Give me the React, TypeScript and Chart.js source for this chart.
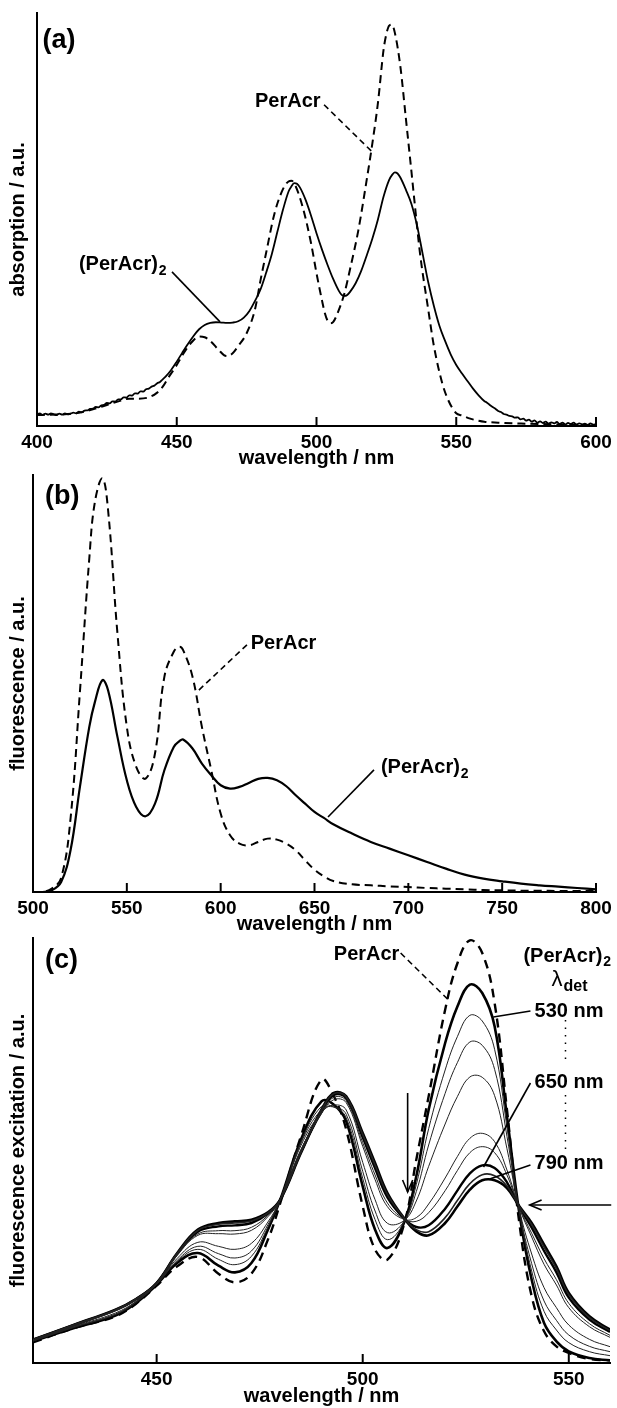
import React, { useEffect, useRef } from "react";
import { Chart, registerables } from "chart.js";
Chart.register(...registerables);

const FONT = '"Liberation Sans", Arial, Helvetica, sans-serif';

// ---------- Panel (a): absorption ----------
const absTicks = [400, 450, 500, 550, 600];
const absDimer: [number, number][] = [
  [400,35],[401,38],[402,33],[403,37],[404,34],[405,38],[406,35],[407,33],[408,37],[409,34],[410,38],[411,35],[412,37],[413,40],[414,38],[415,43],[416,41],[417,46],[418,47],[419,51],[420,52],[421,57],[422,56],[423,62],[424,63],[425,69],[426,68],[427,74],[428,73],[429,80],[430,80],[431,86],[432,85],[433,92],[434,91],[435,98],[436,97],[437,104],[438,103],[439,110],[440,112],[441,118],[442,121],[443,128],[444,132],[445,140],
  [446,148],[448,168],[450,193],[452,220],[454,246],[456,270],[458,290],[460,303],[462,309],[464,311],[466,310],[468,309],[470,310],[472,314],[474,325],[476,345],[478,375],[480,410],[482,460],[484,515],[486,582],[488,648],[490,703],[491,718],[492,728],[493,726],[494,716],[496,680],[498,632],[500,578],[502,528],[504,482],[506,440],[508,405],[509,393],[510,390],[511,393],[512,402],[514,428],[516,465],[518,512],[520,562],[522,620],[524,688],[526,738],[527,752],[528,760],[529,757],[530,745],[532,708],[534,665],[536,600],[538,515],[540,430],[542,360],[544,300],[546,255],[548,215],[550,183],[552,158],[554,135],[556,112],[558,92],
  [560,75],[561,70],[562,63],[563,57],[564,52],[565,45],[566,42],[567,36],[568,34],[569,30],[570,29],[571,25],[572,26],[573,20],[574,22],[575,16],[576,19],[577,13],[578,17],[579,10],[580,14],[581,9],[582,13],[583,7],[584,11],[585,8],[586,12],[587,6],[588,10],[589,5],[590,9],[591,6],[592,10],[593,4],[594,8],[595,5],[596,7],[597,3],[598,8],[599,4],[600,6]
];
const absMono: [number, number][] = [
  [400,33],[405,34],[410,35],[415,40],[420,50],[425,63],[430,76],[433,82],[436,82],[440,86],[443,100],[445,118],[447,145],[450,183],[452,212],[455,248],[458,268],[460,266],[462,255],[465,228],[467,212],[468,210],[470,218],[472,240],[475,278],[478,350],[480,438],[482,520],[485,638],[488,710],[490,733],[491,735],[492,728],[495,658],[498,550],[500,458],[502,375],[503,338],[504,315],[505,308],[506,312],[508,348],[510,398],[512,470],[515,588],[518,740],[520,848],[522,970],[524,1128],[525,1175],[526,1200],[527,1203],[528,1180],[530,1078],[532,920],[534,760],[535,678],[537,520],[540,348],[542,240],[545,128],[547,80],[550,38],[552,32],[555,22],[558,16],[560,13],[565,10],[570,8],[575,7],[580,6],[590,4],[600,3]
];

// ---------- Panel (b): fluorescence ----------
const fluTicks = [500, 550, 600, 650, 700, 750, 800];
const fluWl = [500,505,510,515,520,525,530,533,537,540,545,550,555,560,565,570,575,578,580,585,590,595,600,605,610,615,620,625,630,635,640,645,650,655,660,670,680,690,700,710,720,730,740,750,760,770,780,790,800];
const fluDimer = [0,0,5,30,125,315,495,570,635,605,465,335,255,227,265,365,435,452,457,430,385,350,320,310,315,327,339,342,335,317,290,265,240,222,203,175,150,130,110,90,70,52,40,32,25,20,16,12,8];
const fluMono = [0,0,10,42,220,600,1000,1170,1240,1145,775,495,375,340,415,645,720,735,725,645,495,365,235,170,145,140,150,160,157,145,125,95,67,47,33,23,20,17,15,12,10,8,6,5,4,4,3,3,3];

// ---------- Panel (c): fluorescence excitation ----------
const excTicks = [450, 500, 550];
const excWl = [420,430,440,445,450,455,460,465,469,473,477,480,485,490,493,496,500,503,506,510,513,516,520,523,526,529,532,535,538,541,544,547,550,555,560];
const excPerAcr = [62,105,140,178,232,290,318,268,242,268,370,480,680,850,800,700,470,340,310,415,610,800,1060,1200,1268,1230,1080,760,420,200,95,50,30,12,8];
const excDet530 = [65,105,142,180,235,300,330,292,272,300,400,490,670,785,775,725,530,400,345,420,560,760,960,1070,1135,1110,1010,740,450,250,120,65,35,15,8];
const excMid1 = [66,107,145,182,236,305,341,311,295,320,408,490,664,770,768,736,554,430,370,422,535,703,879,980,1043,1026,941,708,453,276,155,99,61,34,22];
const excMid2 = [66,108,147,183,236,308,350,328,315,336,415,490,659,760,768,746,575,456,391,424,514,654,809,902,963,953,881,680,456,298,186,128,84,50,34];
const excMid3 = [67,110,150,185,237,314,362,350,341,359,423,490,652,752,774,759,602,490,419,427,486,590,717,800,858,857,802,643,459,327,226,166,114,71,49];
const excMid4 = [69,113,156,189,239,323,383,388,387,398,439,490,640,748,790,781,650,550,469,431,436,477,555,620,674,689,664,579,465,378,296,234,166,109,77];
const excMid5 = [69,113,157,190,239,325,387,397,397,407,443,490,637,750,797,787,661,564,480,432,425,451,517,578,631,649,631,564,466,389,313,250,179,118,83];
const excDet650 = [70,114,159,191,240,328,394,410,413,420,448,490,633,754,804,794,677,584,497,434,408,413,463,518,569,593,585,542,468,406,336,272,196,130,93];
const excMid6 = [70,115,159,192,240,329,398,416,420,426,450,490,631,758,808,798,685,594,505,435,400,394,436,488,538,565,562,531,469,415,348,283,205,136,97];
const excDet790 = [70,115,160,192,240,330,400,420,425,430,452,490,630,760,810,800,690,600,510,435,395,383,420,470,520,548,548,525,470,420,355,290,210,140,100];

type Txt = { x: number; y: number; text: string; sub?: string; size?: number; align?: "left" | "right"; weight?: string };
type Seg = { x1: number; y1: number; x2: number; y2: number; dash?: number[]; width?: number; arrow?: boolean };

const pts = (wl: number[], v: number[]) => wl.map((x, i) => ({ x, y: v[i] }));
const pairPts = (p: [number, number][]) => p.map(([x, y]) => ({ x, y }));

function line(data: any[], width: number, dash: number[] = [], color = "#000", smooth = true) {
  const base: any = {
    data,
    borderColor: color,
    borderWidth: width,
    borderDash: dash,
    pointRadius: 0,
    fill: false,
  };
  if (smooth) base.tension = 0.4;
  else base.cubicInterpolationMode = "monotone";
  return base;
}

type PanelProps = {
  top: number; height: number; padTop: number; padRight: number; yWidth: number; xHeight: number;
  xMin: number; xMax: number; xTicks: number[]; yMax: number; yTitle: string;
  datasets: any[]; texts: Txt[]; segs: Seg[];
};

function Panel(p: PanelProps) {
  const ref = useRef<HTMLCanvasElement>(null);
  useEffect(() => {
    const canvas = ref.current!;
    const annot = {
      id: "annot",
      afterDatasetsDraw(chart: any) {
        const ctx = chart.ctx;
        const xs = chart.scales.x, ys = chart.scales.y;
        const X = (v: number) => xs.getPixelForValue(v);
        const Y = (v: number) => ys.getPixelForValue(v);
        ctx.save();
        ctx.strokeStyle = "#000";
        ctx.lineWidth = 2;
        ctx.setLineDash([]);
        const base = chart.chartArea.bottom;
        p.xTicks.forEach((t) => {
          if (t <= p.xMin) return;
          const px = X(t);
          ctx.beginPath();
          ctx.moveTo(px, base);
          ctx.lineTo(px, base - 9);
          ctx.stroke();
        });
        p.segs.forEach((s) => {
          ctx.lineWidth = s.width ?? 1.6;
          ctx.setLineDash(s.dash ?? []);
          const x1 = X(s.x1), y1 = Y(s.y1), x2 = X(s.x2), y2 = Y(s.y2);
          ctx.beginPath();
          ctx.moveTo(x1, y1);
          ctx.lineTo(x2, y2);
          ctx.stroke();
          if (s.arrow) {
            ctx.setLineDash([]);
            const a = Math.atan2(y2 - y1, x2 - x1);
            const L = 13, w = 0.4;
            ctx.beginPath();
            ctx.moveTo(x2 - L * Math.cos(a - w), y2 - L * Math.sin(a - w));
            ctx.lineTo(x2, y2);
            ctx.lineTo(x2 - L * Math.cos(a + w), y2 - L * Math.sin(a + w));
            ctx.stroke();
          }
        });
        ctx.setLineDash([]);
        ctx.fillStyle = "#000";
        ctx.textBaseline = "middle";
        p.texts.forEach((t) => {
          const size = t.size ?? 20;
          ctx.font = `${t.weight ?? "bold"} ${size}px ${FONT}`;
          const w = ctx.measureText(t.text).width;
          const subSize = Math.round(size * 0.72);
          ctx.font = `bold ${subSize}px ${FONT}`;
          const sw = t.sub ? ctx.measureText(t.sub).width : 0;
          let x = X(t.x);
          if (t.align === "right") x -= w + sw;
          const y = Y(t.y);
          ctx.font = `${t.weight ?? "bold"} ${size}px ${FONT}`;
          ctx.textAlign = "left";
          ctx.fillText(t.text, x, y);
          if (t.sub) {
            ctx.font = `bold ${subSize}px ${FONT}`;
            ctx.fillText(t.sub, x + w + 1, y + size * 0.32);
          }
        });
        ctx.restore();
      },
    };
    const chart = new Chart(canvas, {
      type: "line",
      data: { datasets: p.datasets },
      options: {
        animation: false,
        responsive: false,
        devicePixelRatio: 1,
        layout: { padding: { top: p.padTop, right: p.padRight, left: 0, bottom: 0 } },
        plugins: { legend: { display: false }, tooltip: { enabled: false } },
        scales: {
          x: {
            type: "linear",
            min: p.xMin,
            max: p.xMax,
            afterBuildTicks: (s: any) => { s.ticks = p.xTicks.map((v) => ({ value: v })); },
            afterFit: (s: any) => { s.height = p.xHeight; },
            grid: { display: false, drawTicks: false },
            border: { display: true, color: "#000", width: 2 },
            ticks: { color: "#000", padding: 5, maxRotation: 0, autoSkip: false, font: { family: FONT, size: 19, weight: "bold" } },
            title: { display: true, text: "wavelength / nm", color: "#000", padding: 0, font: { family: FONT, size: 20, weight: "bold" } },
          },
          y: {
            type: "linear",
            min: 0,
            max: p.yMax,
            afterFit: (s: any) => { s.width = p.yWidth; },
            grid: { display: false, drawTicks: false },
            border: { display: true, color: "#000", width: 2 },
            ticks: { display: false },
            title: { display: true, text: p.yTitle, color: "#000", padding: { top: 6, bottom: 0 }, font: { family: FONT, size: 20, weight: "bold" } },
          },
        },
      },
      plugins: [annot],
    } as any);
    return () => chart.destroy();
  }, []);
  return (
    <div style={{ position: "absolute", left: 0, top: p.top, width: 617, height: p.height }}>
      <canvas ref={ref} width={617} height={p.height} style={{ display: "block" }} />
    </div>
  );
}

export default function App() {
  const dashA = [8, 5];
  const panelA: PanelProps = {
    top: 0, height: 470, padTop: 13, padRight: 21, yWidth: 37, xHeight: 44,
    xMin: 400, xMax: 600, xTicks: absTicks, yMax: 1238, yTitle: "absorption / a.u.",
    datasets: [line(pairPts(absMono), 2, dashA, "#000", false), line(pairPts(absDimer), 1.8, [], "#000", false)],
    texts: [
      { x: 402, y: 1155, text: "(a)", size: 27 },
      { x: 478, y: 972, text: "PerAcr" },
      { x: 415, y: 483, text: "(PerAcr)", sub: "2" },
    ],
    segs: [
      { x1: 502.7, y1: 963, x2: 519.9, y2: 822, dash: [6, 4] },
      { x1: 448.3, y1: 462, x2: 465.5, y2: 312 },
    ],
  };
  const panelB: PanelProps = {
    top: 470, height: 466, padTop: 5, padRight: 21, yWidth: 33, xHeight: 44,
    xMin: 500, xMax: 800, xTicks: fluTicks, yMax: 1250, yTitle: "fluorescence / a.u.",
    datasets: [line(pts(fluWl, fluMono), 2, dashA), line(pts(fluWl, fluDimer), 2.2)],
    texts: [
      { x: 506.4, y: 1185, text: "(b)", size: 27 },
      { x: 616, y: 744, text: "PerAcr" },
      { x: 685.4, y: 372, text: "(PerAcr)", sub: "2" },
    ],
    segs: [
      { x1: 614, y1: 741, x2: 587.4, y2: 600, dash: [6, 4] },
      { x1: 681.7, y1: 366, x2: 657.2, y2: 225 },
    ],
  };
  const thin = "#222";
  const panelC: PanelProps = {
    top: 936, height: 472, padTop: 2, padRight: 7, yWidth: 33, xHeight: 45,
    xMin: 420, xMax: 560, xTicks: excTicks, yMax: 1275, yTitle: "fluorescence excitation / a.u.",
    datasets: [
      line(pts(excWl, excMid1), 1, [], thin),
      line(pts(excWl, excMid2), 1, [], thin),
      line(pts(excWl, excMid3), 1, [], thin),
      line(pts(excWl, excMid4), 1, [], thin),
      line(pts(excWl, excMid5), 1, [], thin),
      line(pts(excWl, excMid6), 1.6, [], thin),
      line(pts(excWl, excDet650), 2.4),
      line(pts(excWl, excDet790), 2.6),
      line(pts(excWl, excDet530), 2.6),
      line(pts(excWl, excPerAcr), 2.4, [9, 6]),
    ],
    texts: [
      { x: 422.9, y: 1206, text: "(c)", size: 27 },
      { x: 508.9, y: 1227, text: "PerAcr", align: "right" },
      { x: 539, y: 1221, text: "(PerAcr)", sub: "2" },
      { x: 545.8, y: 1149, text: "λ", sub: "det", weight: "normal", size: 22 },
      { x: 541.7, y: 1056, text: "530 nm" },
      { x: 541.7, y: 843, text: "650 nm" },
      { x: 541.7, y: 600, text: "790 nm" },
    ],
    segs: [
      { x1: 509.2, y1: 1230, x2: 521.3, y2: 1083, dash: [6, 4] },
      { x1: 540.7, y1: 1056, x2: 531.7, y2: 1038 },
      { x1: 540.7, y1: 840, x2: 529.3, y2: 588 },
      { x1: 540.7, y1: 594, x2: 530.8, y2: 552 },
      { x1: 549.2, y1: 1029, x2: 549.2, y2: 894, dash: [1.5, 6], width: 1.5 },
      { x1: 549.2, y1: 804, x2: 549.2, y2: 639, dash: [1.5, 6], width: 1.5 },
      { x1: 510.9, y1: 810, x2: 510.9, y2: 513, arrow: true, width: 1.6 },
      { x1: 560.3, y1: 474, x2: 540.5, y2: 474, arrow: true, width: 1.6 },
    ],
  };
  return (
    <div style={{ position: "absolute", left: 0, top: 0, width: 617, height: 1408, background: "#fff" }}>
      <Panel {...panelA} />
      <Panel {...panelB} />
      <Panel {...panelC} />
    </div>
  );
}
